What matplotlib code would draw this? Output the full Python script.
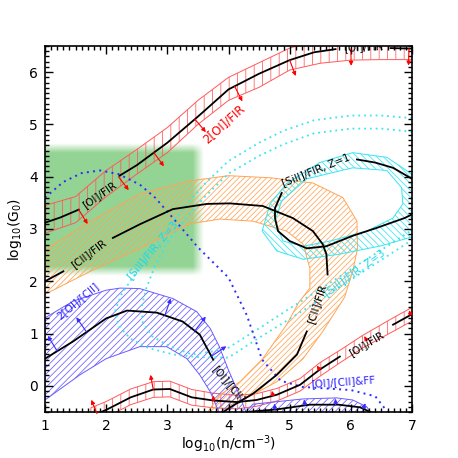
import numpy as np
import matplotlib
matplotlib.use('Agg')
import matplotlib.pyplot as plt
from matplotlib.path import Path
from matplotlib.patches import PathPatch
from matplotlib.ticker import MultipleLocator

plt.rcParams['font.family'] = ['DejaVu Sans']
plt.rcParams['hatch.linewidth'] = 0.55

# ---------------- data ----------------
# upper [OI]/FIR band (red, vertical hatching)
oi_x = [1.0, 1.5, 2.0, 2.5, 3.0, 3.5, 4.0, 4.5, 5.0, 5.5, 6.0, 6.5, 7.0]
oi_lo = [2.92, 3.12, 3.62, 4.05, 4.46, 5.00, 5.46, 5.71, 6.04, 6.17, 6.23, 6.24, 6.24]
oi_hi = [3.45, 3.62, 4.12, 4.52, 4.94, 5.46, 5.90, 6.18, 6.46, 6.62, 6.68, 6.70, 6.70]
oi_line_x = [1.0, 1.25, 1.55, np.nan, 2.22, 2.5, 3.0, 3.5, 4.0, 4.5, 5.0, 5.4, 5.75, np.nan, 6.65, 7.0]
oi_line_y = [3.12, 3.22, 3.37, np.nan, 4.02, 4.22, 4.65, 5.15, 5.67, 5.97, 6.23, 6.38, 6.44, np.nan, 6.46, 6.45]
oi_arrow_x = [1.55, 2.2, 2.78, 3.45, 4.1, 5.0, 6.0, 6.95]

# lower [OI]/FIR band (red)
lr_x = [1.75, 2.0, 2.4, 2.77, 3.04, 3.4, 3.75, 4.14, 4.46, 4.79, 5.17, 5.49, 5.82, 6.2, 6.69, 7.0]
lr_mid = [-0.58, -0.46, -0.22, -0.07, -0.06, -0.22, -0.28, -0.31, -0.27, -0.17, 0.02, 0.31, 0.56, 0.85, 1.17, 1.37]
lr_hi = [-0.42, -0.30, -0.06, 0.08, 0.09, -0.07, -0.14, -0.18, -0.15, -0.05, 0.14, 0.44, 0.68, 0.97, 1.30, 1.50]
lr_lo = [-0.72, -0.60, -0.36, -0.22, -0.21, -0.37, -0.42, -0.44, -0.39, -0.29, -0.10, 0.18, 0.44, 0.73, 1.04, 1.24]
lr_line_x = [1.75, 2.0, 2.4, 2.77, 3.04, 3.4, 3.75, 4.14, 4.46, 4.79, 5.17, 5.49, 5.82, np.nan, 6.69, 7.0]
lr_line_y = [-0.58, -0.46, -0.22, -0.07, -0.06, -0.22, -0.28, -0.31, -0.27, -0.17, 0.02, 0.31, 0.56, np.nan, 1.17, 1.37]
lr_arrow_long_x = [1.85, 2.77]
lr_arrow_short_x = [3.75, 4.73, 5.49, 6.26, 6.98]

# [CII]/FIR band (orange), outer and inner boundary
cii_out_x = [0.9, 1.0, 1.74, 2.55, 3.37, 4.0, 4.68, 5.38, 5.87, 6.1, 6.11, 6.03, 5.9, 5.54, 5.22, 4.79, 4.4, 4.02, 3.85]
cii_out_y = [2.45, 2.6, 3.15, 3.67, 3.92, 4.02, 3.98, 3.88, 3.6, 3.15, 2.63, 2.19, 1.7, 1.04, 0.52, 0.08, -0.17, -0.37, -0.6]
cii_in_x = [3.6, 3.86, 4.19, 4.56, 4.95, 5.15, 5.33, 5.33, 5.22, 4.95, 4.4, 3.86, 3.37, 2.55, 1.74, 1.0, 0.9]
cii_in_y = [-0.6, -0.17, 0.08, 0.52, 1.17, 1.6, 1.87, 2.25, 2.71, 2.96, 3.15, 3.19, 3.1, 2.63, 2.19, 1.75, 1.68]
cii_line_x = [1.0, 1.3, np.nan, 2.11, 2.55, 3.09, 3.65, 4.02, 4.56, 5.05, 5.38, 5.54, 5.6, 5.62, np.nan, 5.28, 5.12, 4.79, 4.4, 4.07, 3.85]
cii_line_y = [2.0, 2.19, np.nan, 2.83, 3.09, 3.38, 3.48, 3.49, 3.44, 3.21, 2.96, 2.71, 2.52, 2.13, np.nan, 1.04, 0.6, 0.21, -0.15, -0.38, -0.55]

# [SiII]/FIR Z=1 ring (cyan)
si_out_x = [4.55, 4.68, 4.95, 5.49, 6.03, 6.59, 6.91, 7.15, 7.15, 6.5, 5.82, 5.22, 4.79]
si_out_y = [2.96, 3.48, 3.87, 4.27, 4.46, 4.37, 4.12, 3.9, 2.9, 2.68, 2.52, 2.42, 2.58]
si_in_x = [4.76, 4.87, 5.28, 6.03, 6.59, 6.83, 6.85, 6.69, 6.26, 5.66, 5.22, 4.89]
si_in_y = [3.15, 3.54, 3.96, 4.17, 4.12, 3.79, 3.48, 3.21, 2.96, 2.77, 2.67, 2.77]
si_line_x = [6.1, 6.4, 6.69, 7.0, 7.15, 7.15, 7.0, 6.88, 6.42, 6.03, 5.6, 5.28, 5.0, 4.81, 4.76, 4.76, 4.87]
si_line_y = [4.33, 4.27, 4.17, 3.96, 3.8, 3.35, 3.28, 3.21, 3.02, 2.87, 2.67, 2.63, 2.77, 2.96, 3.21, 3.4, 3.69]

# [SiII]/FIR Z=3 dotted contours (cyan)
z3a_x = [7.0, 6.5, 6.0, 5.4, 4.9, 4.5, 4.0, 3.6, 3.3, 3.0, 2.7, 2.45, 2.25, 2.15, 2.2, 2.4, 2.7, 3.1, 3.5, 4.0, 4.5, 5.0, 5.5, 6.0, 6.5, 7.0]
z3a_y = [5.12, 5.17, 5.17, 5.08, 4.88, 4.65, 4.3, 3.85, 3.45, 3.0, 2.5, 2.1, 1.75, 1.45, 1.15, 0.9, 0.72, 0.6, 0.55, 0.54, 0.92, 1.28, 1.65, 2.03, 2.41, 2.79]
z3b_x = [7.0, 6.5, 6.0, 5.4, 4.9, 4.5, 4.0, 3.6, 3.3, 3.0, 2.8, 2.65, 2.58, 2.6, 2.75, 3.0, 3.4, 3.7, 4.0, 4.5, 5.0, 5.5, 6.0, 6.5, 7.0]
z3b_y = [4.86, 4.92, 4.92, 4.83, 4.62, 4.4, 4.06, 3.6, 3.2, 2.75, 2.3, 1.85, 1.5, 1.2, 0.95, 0.78, 0.6, 0.65, 0.73, 1.1, 1.48, 1.85, 2.23, 2.6, 2.98]

# 2[OI]/[CII] band (blue)
b_up_x = [1.0, 1.46, 2.0, 2.23, 2.55, 3.09, 3.48, 3.7, 3.85, 4.0, 4.15, 4.32]
b_up_y = [1.3, 1.62, 1.83, 1.87, 1.86, 1.67, 1.42, 1.1, 0.75, 0.3, -0.1, -0.6]
b_lo_x = [3.88, 3.7, 3.53, 3.32, 2.99, 2.55, 2.0, 1.57, 1.0]
b_lo_y = [-0.6, -0.11, 0.21, 0.52, 0.75, 0.75, 0.52, 0.21, -0.27]
b_line_x = [1.0, 1.46, 2.0, 2.34, 2.83, 3.25, 3.53, 3.75]
b_line_y = [0.52, 0.85, 1.29, 1.44, 1.4, 1.23, 0.98, 0.5]
b_arrow_x = [1.2, 1.68, 2.96, 3.45, 3.72]

# [OI]/[CII]&FF blob (blue)
ff_x = [4.2, 4.4, 4.73, 5.22, 5.77, 6.03, 6.26, 6.38]
ff_y = [-0.6, -0.35, -0.31, -0.25, -0.23, -0.27, -0.4, -0.6]
ff_line_x = [4.3, 4.79, 5.33, 5.8, 6.15, 6.32]
ff_line_y = [-0.5, -0.45, -0.36, -0.36, -0.41, -0.5]
ff_arrow_x = [4.76, 5.25, 5.75, 6.2]

# blue dotted curve
bd_x = [1.0, 1.3, 1.6, 1.9, 2.2, 2.55, 2.8, 3.1, 3.5, 4.0, 4.3, 4.55, 4.85, 5.2, 5.6, 6.0, 6.4, 6.6]
bd_y = [3.6, 3.9, 4.07, 4.12, 4.05, 3.85, 3.6, 3.2, 2.65, 2.07, 1.35, 0.5, 0.1, -0.02, -0.05, -0.08, -0.2, -0.5]

# green region (observational constraint)
green_xr = (0.9, 3.5)
green_yr = (2.2, 4.55)

# ---------------- colours ----------------
RED = '#ff5a5a'
ORANGE = '#ffa555'
CYAN = '#38e6f2'
BLUE = '#6a5cff'
BLUE_TXT = '#2d1fff'
GREEN = (0.58, 0.83, 0.58)

fig = plt.figure(figsize=(4.58, 4.58), dpi=100)
ax = fig.add_axes([45 / 458, 46 / 458, 367 / 458, 366 / 458])
ax.set_xlim(1, 7)
ax.set_ylim(-0.5, 6.5)

# green area
gx = np.linspace(0.7, 3.9, 400)
gy = np.linspace(1.8, 4.95, 400)
GX, GY = np.meshgrid(gx, gy)


def ramp(v, a, b, w):
    return np.clip((v - (a - w)) / (2 * w), 0, 1) * np.clip(((b + w) - v) / (2 * w), 0, 1)


alpha = ramp(GX, green_xr[0], green_xr[1], 0.09) * ramp(GY, green_yr[0], green_yr[1], 0.09)
rgba = np.zeros(GX.shape + (4,))
rgba[..., 0], rgba[..., 1], rgba[..., 2] = GREEN
rgba[..., 3] = alpha
ax.imshow(rgba, extent=[gx[0], gx[-1], gy[0], gy[-1]], origin='lower', aspect='auto',
          zorder=0.5, interpolation='bilinear')
ax.set_xlim(1, 7)
ax.set_ylim(-0.5, 6.5)

# hatched bands
ax.fill_between(oi_x, oi_lo, oi_hi, facecolor='none', edgecolor=RED, hatch='||', lw=0.7, zorder=1)
ax.fill_between(lr_x, lr_lo, lr_hi, facecolor='none', edgecolor=RED, hatch='||', lw=0.7, zorder=1)

ax.fill(list(cii_out_x) + list(cii_in_x), list(cii_out_y) + list(cii_in_y),
        facecolor='none', edgecolor=ORANGE, hatch='//////', lw=0.7, zorder=1)

ax.fill(list(b_up_x) + list(b_lo_x), list(b_up_y) + list(b_lo_y),
        facecolor='none', edgecolor=BLUE, hatch='/////', lw=0.7, zorder=1)
ax.fill(ff_x, ff_y, facecolor='none', edgecolor=BLUE, hatch='/////', lw=0.7, zorder=1)


def signed_area(x, y):
    x = np.asarray(x); y = np.asarray(y)
    return 0.5 * np.sum(x * np.roll(y, -1) - np.roll(x, -1) * y)


o = np.column_stack([si_out_x, si_out_y])
i = np.column_stack([si_in_x, si_in_y])
if signed_area(si_out_x, si_out_y) < 0:
    o = o[::-1]
if signed_area(si_in_x, si_in_y) > 0:
    i = i[::-1]
verts = np.vstack([o, o[:1], i, i[:1]])
codes = ([Path.MOVETO] + [Path.LINETO] * (len(o) - 1) + [Path.CLOSEPOLY] +
         [Path.MOVETO] + [Path.LINETO] * (len(i) - 1) + [Path.CLOSEPOLY])
ax.add_patch(PathPatch(Path(verts, codes), facecolor='none', edgecolor=CYAN,
                       hatch='\\\\\\\\\\', lw=0.7, zorder=1))

# dotted curves
dot = (0, (1, 2.2))
ax.plot(z3a_x, z3a_y, color=CYAN, lw=1.3, ls=dot, zorder=2)
ax.plot(z3b_x, z3b_y, color=CYAN, lw=1.3, ls=dot, zorder=2)
ax.plot(bd_x, bd_y, color='#2a2aff', lw=1.4, ls=dot, zorder=2)

# black model lines
for lx, ly in [(oi_line_x, oi_line_y), (lr_line_x, lr_line_y), (cii_line_x, cii_line_y),
               (si_line_x, si_line_y), (b_line_x, b_line_y), (ff_line_x, ff_line_y)]:
    ax.plot(lx, ly, color='black', lw=1.3, zorder=3)


# arrows perpendicular to a curve
def normal_arrows(xs, cx, cy, side, length, color, ms=6, lw=0.8):
    cx = np.asarray(cx, float); cy = np.asarray(cy, float)
    m = ~np.isnan(cx)
    cx, cy = cx[m], cy[m]
    T = ax.transData
    for x0 in xs:
        y0 = np.interp(x0, cx, cy)
        h = 0.05
        p1 = T.transform((x0 - h, np.interp(x0 - h, cx, cy)))
        p2 = T.transform((x0 + h, np.interp(x0 + h, cx, cy)))
        d = p2 - p1
        d = d / np.hypot(*d)
        n = np.array([-d[1], d[0]])
        if side == 'down':
            n = -n
        P0 = T.transform((x0, y0))
        tip = T.inverted().transform(P0 + n * length)
        ax.annotate('', xy=tip, xytext=(x0, y0),
                    arrowprops=dict(arrowstyle='-|>', color=color, lw=lw,
                                    mutation_scale=ms, shrinkA=0, shrinkB=0),
                    zorder=3, annotation_clip=False)


normal_arrows(oi_arrow_x, oi_line_x, oi_line_y, 'down', 17, 'red')
normal_arrows(lr_arrow_long_x, lr_line_x, lr_line_y, 'up', 15, 'red')
normal_arrows(lr_arrow_short_x, lr_line_x, lr_line_y, 'up', 5, 'red')
normal_arrows(b_arrow_x, b_line_x, b_line_y, 'up', 18, '#3a2cff')
normal_arrows(ff_arrow_x, ff_line_x, ff_line_y, 'up', 6, '#3a2cff')

# labels
fs = 7.5
txt = dict(ha='center', va='center', zorder=4, fontsize=fs)
ax.text(1.88, 3.65, '[OI]/FIR', rotation=35, color='black', **txt)
ax.text(3.92, 5.0, '2[OI]/FIR', rotation=42, color='red', ha='center', va='center', zorder=4, fontsize=8.5)
ax.text(1.72, 2.52, '[CII]/FIR', rotation=37, color='black', **txt)
ax.text(2.76, 2.6, '[SiII]/FIR, Z=3', rotation=50, color='#1fd8ea', **txt)
ax.text(1.54, 1.63, '2[OI]/[CII]', rotation=40, color=BLUE_TXT, **txt)
ax.text(5.43, 4.14, '[SiII]/FIR, Z=1', rotation=22, color='black', **txt)
ax.text(6.06, 2.17, '[SiII]/FIR, Z=3', rotation=36, color='#1fd8ea', **txt)
ax.text(5.45, 1.57, '[CII]/FIR', rotation=72, color='black', **txt)
ax.text(6.25, 0.8, '[OI]/FIR', rotation=31, color='black', **txt)
ax.text(5.87, 0.08, '[OI]/[CII]&FF', rotation=4, color=BLUE_TXT, **txt)
ax.text(3.99, 0.03, '[OI]/[CII]', rotation=-50, color='black', **txt)
t = ax.text(6.2, 6.47, '[OI]/FIR', rotation=3, color='black', **txt)
t.set_clip_on(True)

# axes styling
ax.set_xticks(range(1, 8))
ax.set_yticks(range(0, 7))
ax.xaxis.set_minor_locator(MultipleLocator(0.1))
ax.yaxis.set_minor_locator(MultipleLocator(0.1))
ax.tick_params(which='both', direction='in', top=True, right=True, labelsize=10, width=1.0)
ax.tick_params(which='major', length=6, pad=5)
ax.tick_params(which='minor', length=3)
for s in ax.spines.values():
    s.set_linewidth(1.2)
ax.set_xlabel('log$_{10}$(n/cm$^{-3}$)', fontsize=10, labelpad=0)
ax.set_ylabel('log$_{10}$(G$_0$)', fontsize=10, labelpad=4)

fig.savefig('out.png', dpi=100)
